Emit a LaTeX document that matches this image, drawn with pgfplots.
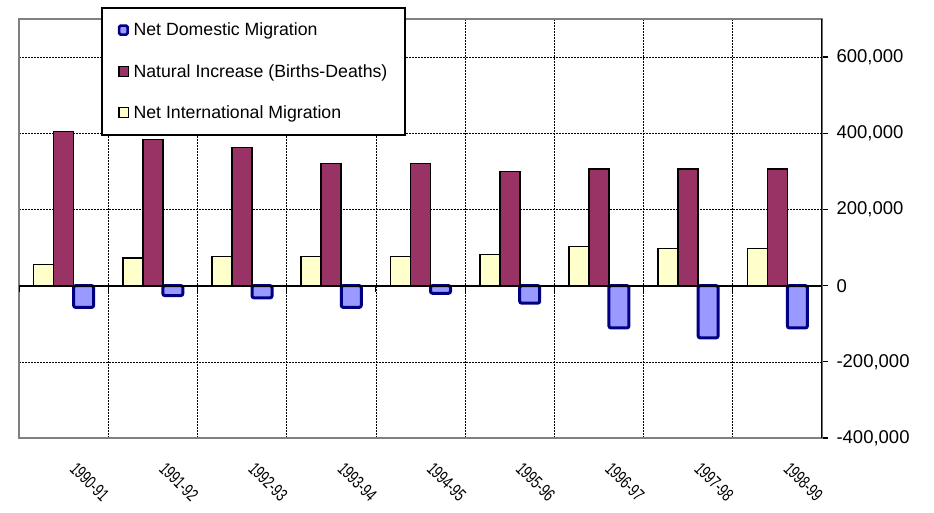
\documentclass[border=0pt]{standalone}
\usepackage{fontspec}
\setmainfont{Liberation Sans}
\usepackage{pgfplots}
\pgfplotsset{compat=1.18}
\definecolor{maroonbar}{HTML}{993366}
\definecolor{paleyellow}{HTML}{FFFFCC}
\definecolor{periwinkle}{HTML}{9999FF}
\definecolor{navyblue}{HTML}{000080}
\newcommand{\sq}[1]{\scalebox{0.7}[1]{#1}}
\begin{document}
\begin{tikzpicture}
\begin{axis}[
  scale only axis, width=803bp, height=419bp,
  xmin=-0.5, xmax=8.5, ymin=-400000, ymax=700000,
  ybar, bar width=20bp,
  scaled y ticks=false,
  xtick={0,...,8},
  xticklabels={\sq{1990-91},\sq{1991-92},\sq{1992-93},\sq{1993-94},\sq{1994-95},\sq{1995-96},\sq{1996-97},\sq{1997-98},\sq{1998-99}},
  major x tick style={draw=none},
  minor xtick={0.5,1.5,...,7.5},
  minor x tick style={draw=none},
  xminorgrids=true,
  xticklabel style={font=\fontsize{18bp}{20bp}\selectfont, xshift=26bp, yshift=-38bp, rotate=-45, anchor=center},
  ytick={-400000,-200000,0,200000,400000,600000},
  yticklabels={{-400,000},{-200,000},{0},{200,000},{400,000},{600,000}},
  ytick pos=right, yticklabel pos=right,
  tick align=outside,
  major tick length=6bp,
  ytick style={black, line width=1.2bp},
  yticklabel style={font=\fontsize{18.5bp}{22bp}\selectfont, xshift=5bp},
  ymajorgrids=true,
  grid style={black, line width=0.6bp, dash pattern=on 2bp off 1bp},
  minor grid style={black, line width=0.6bp, dash pattern=on 2bp off 1bp},
  axis line style={draw=gray, line width=1.5bp},
  legend style={at={(axis description cs:0.102,1.0286)}, anchor=north west,
    draw=black, line width=1.8bp, font=\fontsize{17.7bp}{21bp}\selectfont,
    row sep=23bp, inner xsep=16bp, inner ysep=13bp, legend cell align=left},
]
\addplot[bar shift=20bp, fill=periwinkle, draw=navyblue, line width=3bp, rounded corners=2bp,
  legend image code/.code={\draw[fill=periwinkle, draw=navyblue, line width=2.6bp, rounded corners=1.5bp] (0bp,-4.5bp) rectangle (8.5bp,4.5bp); \path (11bp,0bp);}]
  coordinates {(0,-57000) (1,-26000) (2,-32000) (3,-57000) (4,-20000) (5,-46000) (6,-111000) (7,-137000) (8,-111000)};
\addlegendentry{Net Domestic Migration}
\addplot[bar shift=0bp, fill=maroonbar, draw=black, line width=1.6bp,
  legend image code/.code={\draw[fill=maroonbar, draw=black, line width=1.6bp] (0bp,-5bp) rectangle (9.5bp,5bp); \path (11bp,0bp);}]
  coordinates {(0,405000) (1,384000) (2,363000) (3,321000) (4,321000) (5,300000) (6,306000) (7,306000) (8,306000)};
\addlegendentry{Natural Increase (Births-Deaths)}
\addplot[bar shift=-20bp, fill=paleyellow, draw=black, line width=1.6bp,
  legend image code/.code={\draw[fill=paleyellow, draw=black, line width=1.6bp] (0bp,-5bp) rectangle (9.5bp,5bp); \path (11bp,0bp);}]
  coordinates {(0,55000) (1,72000) (2,77000) (3,77000) (4,77000) (5,82000) (6,103000) (7,98000) (8,98000)};
\addlegendentry{Net International Migration}
\draw[black, line width=1.8bp] (axis cs:-0.5,0) -- (axis cs:8.5,0);
\pgfplotsinvokeforeach{-0.5,0.5,1.5,2.5,3.5,4.5,5.5,6.5,7.5}{
  \draw[black, line width=1.2bp] (axis cs:#1,0) -- ([yshift=-6bp]axis cs:#1,0);
}
\draw[black, line width=2bp] (rel axis cs:1,0) -- (rel axis cs:1,1);
\end{axis}
\pgfresetboundingbox
\path ([shift={(-19bp,-74bp)}]current axis.south west) rectangle ([shift={(112bp,19bp)}]current axis.north east);
\end{tikzpicture}
\end{document}
